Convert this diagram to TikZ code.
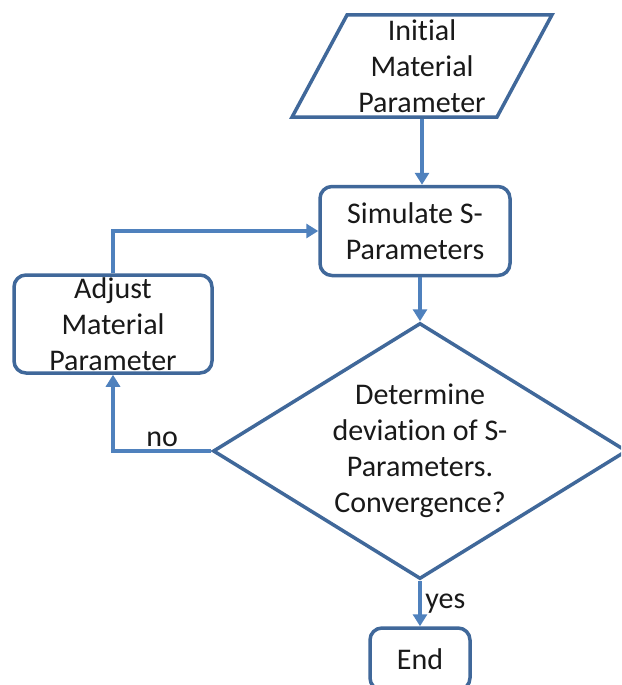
\documentclass[tikz,border=0pt]{standalone}
\usepackage{fontspec}
\setmainfont{Carlito}[Ligatures=NoCommon]
\usepackage{tikz}
\usetikzlibrary{shapes,shapes.geometric}
\usetikzlibrary{arrows.meta}
\definecolor{rahmenblau}{RGB}{64,104,154}
\definecolor{pfeilblau}{RGB}{79,129,189}
\tikzset{
	box/.style={draw=rahmenblau, line width=3.5pt, rounded corners=12pt, align=center, inner sep=0pt},
	pfeil/.style={draw=pfeilblau, line width=4pt, -{Triangle[width=14pt,length=12pt]}},
}

\begin{document}
\begin{tikzpicture}[x=1pt,y=-1pt,font=\fontsize{30}{36}\selectfont,text=black!90]
			\clip (0,0) rectangle (621,685);
			\fill[white] (0,0) rectangle (621,685);
			\node[trapezium, trapezium left angle=63.4, trapezium right angle=116.6, trapezium stretches=true, draw=rahmenblau, line width=3.5pt, minimum width=260pt, minimum height=102pt, align=center, inner sep=0pt] (init) at (422,66) {Initial\\Material\\Parameter};
			\node[box, minimum width=190pt, minimum height=89pt] (sim) at (415,231) {Simulate S-\\Parameters};
			\node[box, minimum width=198pt, minimum height=98pt] (adj) at (113,324) {Adjust\\Material\\Parameter};
			\node[diamond, draw=rahmenblau, line width=3.5pt, aspect=1.62, inner sep=0pt, minimum width=414pt, minimum height=256pt, align=center] (dec) at (420,451) {Determine\\deviation of S-\\Parameters.\\Convergence?};
			\node[box, minimum width=100pt, minimum height=62pt] (ende) at (420,659) {End};
			\draw[pfeil] (init.south) -- (init.south |- sim.north);
			\draw[pfeil] (dec.north |- sim.south) -- (dec.north);
			\draw[pfeil] (dec.south) -- node[right, text=black!90]{yes} (ende.north);
			\draw[pfeil] (dec.west) -| node[above, pos=0.25, inner sep=2pt, text=black!90]{no} (adj.south);
			\draw[pfeil] (adj.north) |- (sim.west);
		\end{tikzpicture}
\end{document}
